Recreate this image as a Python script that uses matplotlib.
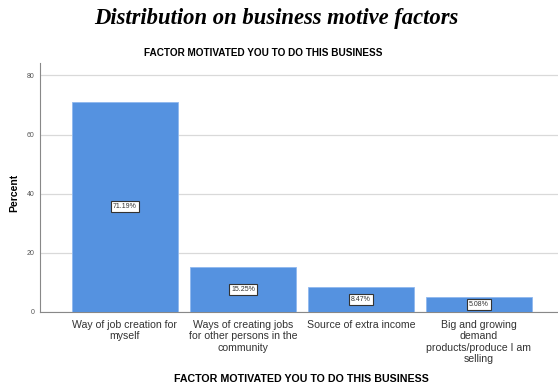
import matplotlib.pyplot as plt
import numpy as np

categories = [
    "Way of job creation for\nmyself",
    "Ways of creating jobs\nfor other persons in the\ncommunity",
    "Source of extra income",
    "Big and growing\ndemand\nproducts/produce I am\nselling",
]
percent = [71.19, 15.25, 8.47, 5.08]
y_ticks = [0, 20, 40, 60, 80]

fig = plt.figure(figsize=(5.58, 3.87), dpi=100)
ax = fig.add_axes([0.0717, 0.194, 0.9283, 0.643])

x = np.arange(len(categories))
bars = ax.bar(x, percent, width=0.9, color="#5592e0", edgecolor="#8fb8ee",
              linewidth=0.6, zorder=3)

for xi, v in zip(x, percent):
    ax.text(xi, v / 2, f"{v:.2f}%", ha="center", va="center", fontsize=5,
            family="Liberation Sans", color="#333333", zorder=4,
            bbox=dict(boxstyle="square,pad=0.25", fc="white", ec="#333333", lw=0.8))

ax.set_xlim(-0.72, 3.67)
ax.set_ylim(0, 84.2)
ax.set_yticks(y_ticks)
ax.set_yticklabels([str(t) for t in y_ticks], fontsize=5, color="#555555",
                   family="Liberation Sans")
ax.set_xticks(x)
ax.set_xticklabels(categories, fontsize=7.6, color="#333333", family="Liberation Sans",
                   linespacing=1.15)
ax.tick_params(axis="both", length=0)
ax.tick_params(axis="x", pad=6)
ax.tick_params(axis="y", pad=4)
ax.grid(axis="y", color="#d9d9d9", lw=0.9, zorder=0)

for s in ["top", "right"]:
    ax.spines[s].set_visible(False)
for s in ["left", "bottom"]:
    ax.spines[s].set_color("#888888")
    ax.spines[s].set_linewidth(0.8)

ax.set_ylabel("Percent", fontsize=7.5, fontweight="bold", family="Liberation Sans")
ax.yaxis.set_label_coords(-0.04, 0.48)

fig.text(0.496, 0.952, "Distribution on business motive factors", ha="center",
         va="center", fontsize=16.3, fontweight="bold", fontstyle="italic",
         family="Liberation Serif")
fig.text(0.471, 0.864, "FACTOR MOTIVATED YOU TO DO THIS BUSINESS", ha="center",
         va="center", fontsize=7.2, fontweight="bold", family="Liberation Sans")
fig.text(0.54, 0.02, "FACTOR MOTIVATED YOU TO DO THIS BUSINESS", ha="center",
         va="center", fontsize=7.7, fontweight="bold", family="Liberation Sans")

fig.savefig("out.png", dpi=100)
